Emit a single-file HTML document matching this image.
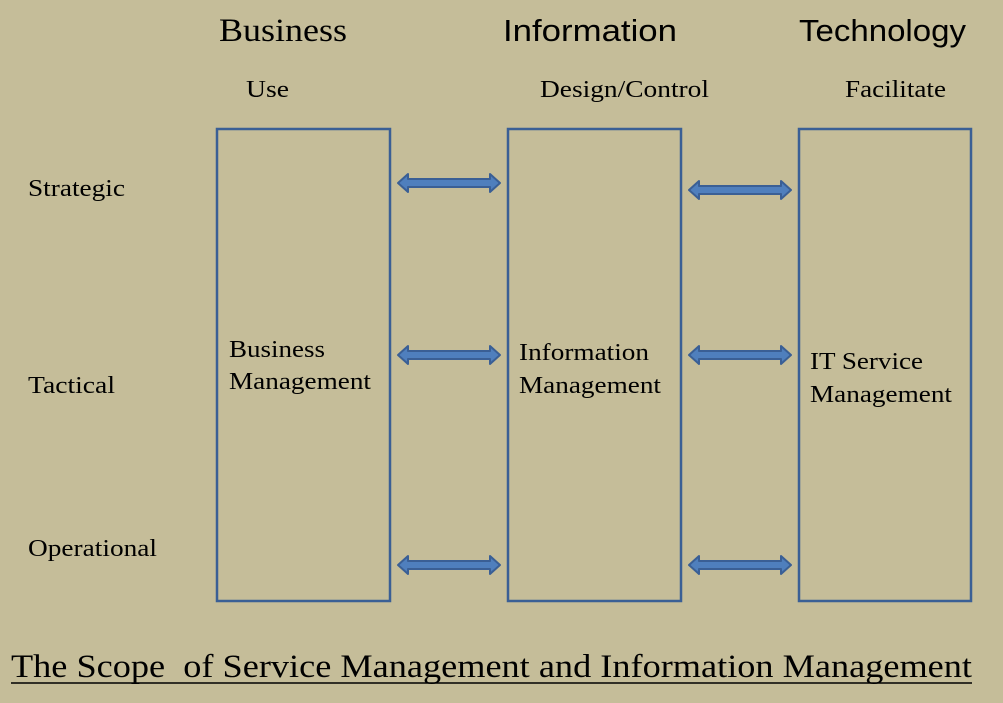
<!DOCTYPE html>
<html><head><style>
body{margin:0;width:1003px;height:703px;background:#c5bd99;overflow:hidden}
svg{display:block}
</style></head><body>
<svg width="1003" height="703" xmlns="http://www.w3.org/2000/svg">
<defs>
<g id="arr">
<polygon points="0,9 10,0 10,5 92,5 92,0 102,9 92,18 92,13 10,13 10,18" fill="#4f7fbd" stroke="#3a5f95" stroke-width="2" stroke-linejoin="round"/>
</g>
</defs>
<g font-family="Liberation Serif, serif" fill="#000">
<text x="219" y="41" font-size="33" textLength="128" lengthAdjust="spacingAndGlyphs">Business</text>
<text x="503" y="41" font-size="31" font-family="Liberation Sans, sans-serif" textLength="174" lengthAdjust="spacingAndGlyphs">Information</text>
<text x="799" y="41" font-size="31" font-family="Liberation Sans, sans-serif" textLength="167" lengthAdjust="spacingAndGlyphs">Technology</text>
<text x="246" y="97" font-size="24" textLength="43" lengthAdjust="spacingAndGlyphs">Use</text>
<text x="540" y="97" font-size="24" textLength="169" lengthAdjust="spacingAndGlyphs">Design/Control</text>
<text x="845" y="97" font-size="24" textLength="101" lengthAdjust="spacingAndGlyphs">Facilitate</text>
<text x="28" y="196" font-size="24" textLength="97" lengthAdjust="spacingAndGlyphs">Strategic</text>
<text x="28" y="393" font-size="24" textLength="87" lengthAdjust="spacingAndGlyphs">Tactical</text>
<text x="28" y="556" font-size="24" textLength="129" lengthAdjust="spacingAndGlyphs">Operational</text>
<text x="229" y="357" font-size="24" textLength="96" lengthAdjust="spacingAndGlyphs">Business</text>
<text x="229" y="389" font-size="24" textLength="142" lengthAdjust="spacingAndGlyphs">Management</text>
<text x="519" y="360" font-size="24" textLength="130" lengthAdjust="spacingAndGlyphs">Information</text>
<text x="519" y="393" font-size="24" textLength="142" lengthAdjust="spacingAndGlyphs">Management</text>
<text x="810" y="369" font-size="24" textLength="113" lengthAdjust="spacingAndGlyphs">IT Service</text>
<text x="810" y="402" font-size="24" textLength="142" lengthAdjust="spacingAndGlyphs">Management</text>
<text x="11" y="677" font-size="33" textLength="961" lengthAdjust="spacingAndGlyphs" xml:space="preserve">The Scope  of Service Management and Information Management</text>
</g>
<line x1="11" y1="683" x2="972" y2="683" stroke="#000" stroke-width="1.5"/>
<g fill="none" stroke="#3a5f95" stroke-width="2.5">
<rect x="217" y="129" width="173" height="472"/>
<rect x="508" y="129" width="173" height="472"/>
<rect x="799" y="129" width="172" height="472"/>
</g>
<use href="#arr" x="398" y="174"/>
<use href="#arr" x="689" y="181"/>
<use href="#arr" x="398" y="346"/>
<use href="#arr" x="689" y="346"/>
<use href="#arr" x="398" y="556"/>
<use href="#arr" x="689" y="556"/>
</svg>
</body></html>
